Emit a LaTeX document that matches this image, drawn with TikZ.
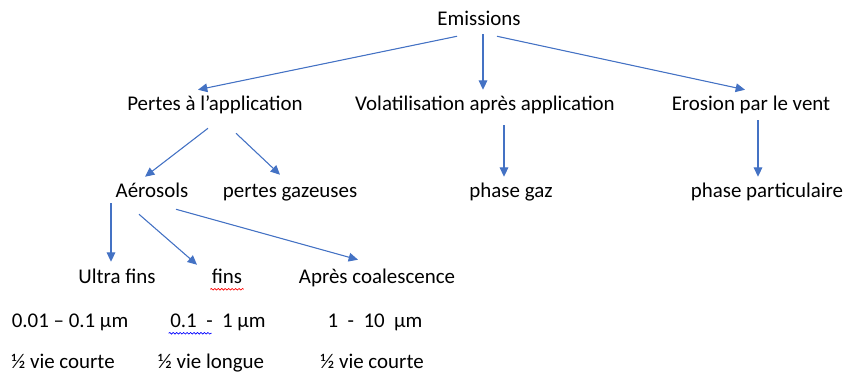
\documentclass[tikz,border=0pt]{standalone}
\usepackage{fontspec}
\setmainfont{Carlito}
\usetikzlibrary{arrows.meta,decorations.pathmorphing}
\definecolor{arrblue}{HTML}{4472C4}

\begin{document}
\begin{tikzpicture}[x=0.75pt, y=-0.75pt,
  lbl/.style={font=\fontsize{15.7}{18}\selectfont, inner xsep=1pt, inner ysep=2.5pt,
              text height=11pt, text depth=3.5pt},
  arr/.style={-{Triangle[length=7pt,width=6.5pt]}, draw=arrblue, fill=arrblue, line width=0.8pt},
  squig/.style={decorate, decoration={snake, amplitude=0.6pt, segment length=2.6pt}, line width=0.5pt}]
\useasboundingbox (0,0) rectangle (845,374);

% ---------- top ----------
\node[lbl]            (em) at (479, 21) {Emissions};
\node[lbl]            (p-app) at (215, 106) {Pertes à l’application};
\node[lbl]            (p-vol) at (485, 106) {Volatilisation après application};
\node[lbl]            (p-ero) at (751, 106) {Erosion par le vent};

% ---------- phases ----------
\node[lbl]            (v-gaz) at (511, 192) {phase gaz};
\node[lbl]            (e-part) at (767, 192) {phase particulaire};
\node[lbl]            (a-aer) at (152, 192) {Aérosols};
\node[lbl]            (a-gaz) at (290, 192) {pertes gazeuses};

% ---------- aerosol classes ----------
\node[lbl]            (c-ultra) at (117, 278) {Ultra fins};
\node[lbl]            (c-fins) at (227, 278) {fins};
\node[lbl]            (c-coal) at (377, 278) {Après coalescence};
\node[lbl]            (c-ultra-r) at (70, 322) {0.01 – 0.1 µm};
\node[lbl]            (c-fins-r) at (218, 322) {0.1~ -~ 1 µm};
\node[lbl]            (c-coal-r) at (375, 322) {1~ -~ 10~ µm};
\node[lbl]            (c-ultra-v) at (63, 363) {½ vie courte};
\node[lbl]            (c-fins-v) at (211, 363) {½ vie longue};
\node[lbl]            (c-coal-v) at (372, 363) {½ vie courte};

% spelling marks
\draw[squig, red]     ([shift={(0,-2)}]c-fins.south west) -- ([shift={(0,-2)}]c-fins.south east);
\draw[squig, blue]    ([shift={(0,-2)}]c-fins-r.south west) -- ++(43,0);

% ---------- arrows ----------
\draw[arr] ([shift={(-22,2)}]em.south) -- ([shift={(-17,-3)}]p-app.north);
\draw[arr] ([shift={(4,0)}]em.south) -- ([shift={(-2,-3)}]p-vol.north);
\draw[arr] ([shift={(18,2)}]em.south) -- ([shift={(-6,-3)}]p-ero.north);
\draw[arr] ([shift={(19,6)}]p-vol.south) -- ([shift={(-7,-2)}]v-gaz.north);
\draw[arr] ([shift={(7,1)}]p-ero.south) -- ([shift={(-9,-2)}]e-part.north);
\draw[arr] ([shift={(-7,9)}]p-app.south) -- ([shift={(-7,-2)}]a-aer.north);
\draw[arr] ([shift={(21,14)}]p-app.south) -- ([shift={(-10,-4)}]a-gaz.north);
\draw[arr] ([shift={(-41,-2)}]a-aer.south) -- ([shift={(-6,-3)}]c-ultra.north);
\draw[arr] ([shift={(-13,9)}]a-aer.south) -- ([shift={(-30,0)}]c-fins.north);
\draw[arr] ([shift={(24,4)}]a-aer.south) -- ([shift={(-19,-5)}]c-coal.north);
\end{tikzpicture}
\end{document}
